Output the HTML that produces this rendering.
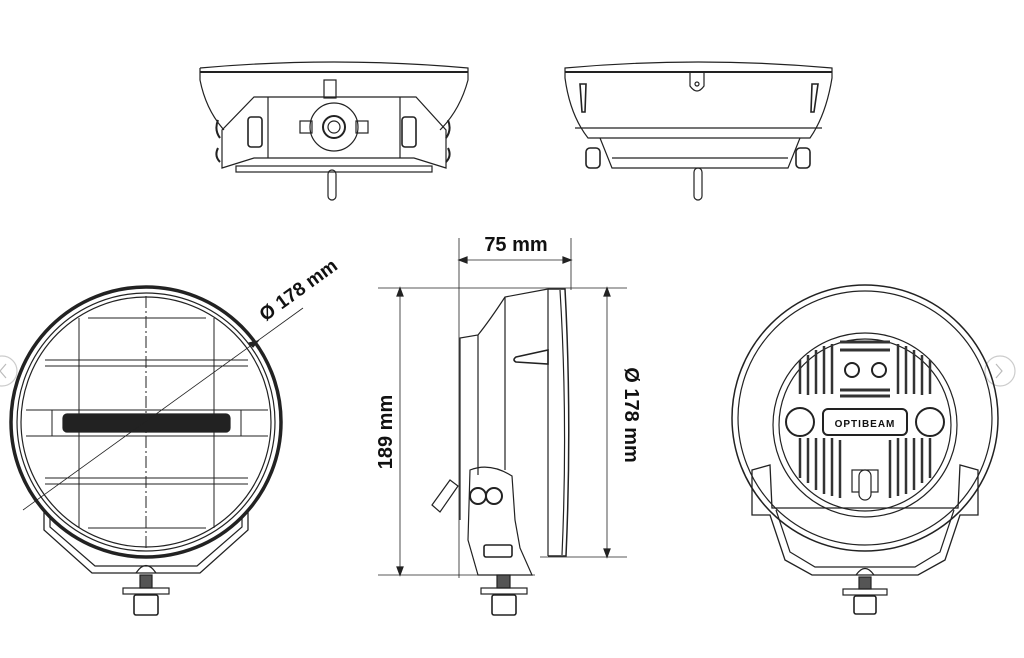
<!DOCTYPE html>
<html><head><meta charset="utf-8"><style>
html,body{margin:0;padding:0;background:#fff;}
svg{display:block}
text{font-family:"Liberation Sans",sans-serif;font-weight:bold;fill:#111}
</style></head><body>
<svg width="1024" height="658" viewBox="0 0 1024 658" xmlns="http://www.w3.org/2000/svg" fill="none" stroke="#222" stroke-width="1.2">
<!-- carousel arrows -->
<circle cx="2" cy="371" r="15" stroke="#ccc"/>
<path d="M6 364 l-6 7 6 7" stroke="#bbb"/>
<circle cx="1000" cy="371" r="15" stroke="#ccc"/>
<path d="M996 364 l6 7 -6 7" stroke="#bbb"/>

<!-- TOP LEFT VIEW -->
<path d="M200 68 Q334 56 468 68 L468 80 Q460 110 440 130 M200 68 L200 80 Q206 110 224 130" />
<line x1="200" y1="72" x2="468" y2="72" stroke-width="2"/>
<rect x="324" y="80" width="12" height="18"/>
<path d="M222 130 L254 97 L416 97 L446 130 L446 168 L414 158 L254 158 L222 168 Z"/>
<line x1="268" y1="97" x2="268" y2="158"/><line x1="400" y1="97" x2="400" y2="158"/>
<ellipse cx="334" cy="127" rx="24" ry="24"/>
<circle cx="334" cy="127" r="11" stroke-width="2"/><circle cx="334" cy="127" r="6"/>
<rect x="300" y="121" width="12" height="12"/><rect x="356" y="121" width="12" height="12"/>
<rect x="248" y="117" width="14" height="30" rx="3" stroke-width="1.6"/>
<rect x="402" y="117" width="14" height="30" rx="3" stroke-width="1.6"/>
<path d="M218 120 q-4 10 2 18 M448 120 q4 10 -2 18 M218 148 q-4 8 2 14 M448 148 q4 8 -2 14" stroke-width="2"/>
<rect x="236" y="166" width="196" height="6"/>
<rect x="328" y="170" width="8" height="30" rx="4"/>

<!-- TOP RIGHT VIEW -->
<path d="M565 68 Q698 56 832 68 L832 78 Q826 115 810 138 L588 138 Q570 115 565 78 Z"/>
<line x1="565" y1="72" x2="832" y2="72" stroke-width="2"/>
<line x1="575" y1="128" x2="822" y2="128"/>
<path d="M690 72 L690 86 Q697 96 704 86 L704 72"/><circle cx="697" cy="84" r="2"/>
<path d="M580 84 l6 0 -1 28 -3 0 Z M812 84 l6 0 -4 28 -3 0 Z" stroke-width="1.6"/>
<path d="M600 138 L612 168 L788 168 L800 138"/>
<line x1="612" y1="158" x2="788" y2="158"/>
<rect x="586" y="148" width="14" height="20" rx="4" stroke-width="1.6"/>
<rect x="796" y="148" width="14" height="20" rx="4" stroke-width="1.6"/>
<rect x="694" y="168" width="8" height="32" rx="4"/>

<!-- FRONT VIEW LEFT -->
<circle cx="146" cy="422" r="135" stroke-width="3.5"/>
<circle cx="146" cy="422" r="129"/>
<circle cx="146" cy="422" r="125"/>
<g stroke-width="1">
<line x1="79" y1="318" x2="79" y2="528"/><line x1="146" y1="296" x2="146" y2="548" stroke-dasharray="12 3 2 3"/><line x1="214" y1="318" x2="214" y2="528"/>
<path d="M45 360 L248 360 M45 366 L248 366 M45 478 L248 478 M45 484 L248 484 M88 318 L206 318 M88 528 L206 528 M26 410 L268 410 M26 436 L268 436"/>
<line x1="52" y1="410" x2="52" y2="436"/><line x1="241" y1="410" x2="241" y2="436"/>
</g>
<rect x="63" y="414" width="167" height="18" rx="4" fill="#222"/>
<line x1="23" y1="510" x2="303" y2="308" stroke-width="0.8"/>
<path d="M258 341 l-9 2 4 4 Z" fill="#222"/>
<text x="0" y="0" font-size="19" transform="translate(302,295) rotate(-36)" text-anchor="middle" stroke="none">Ø 178 mm</text>
<path d="M44 512 L44 530 L92 573 L200 573 L248 530 L248 512" stroke-width="1.3"/>
<path d="M50 518 L50 527 L95 566 L197 566 L242 527 L242 518"/>
<path d="M136 573 Q146 558 156 573"/>
<rect x="140" y="575" width="12" height="13" fill="#555"/>
<rect x="123" y="588" width="46" height="6"/>
<rect x="134" y="595" width="24" height="20" rx="2" stroke-width="1.6"/>

<!-- SIDE VIEW -->
<text x="516" y="251" font-size="20" text-anchor="middle" stroke="none">75 mm</text>
<g stroke-width="0.8">
<line x1="459" y1="238" x2="459" y2="578"/><line x1="571" y1="238" x2="571" y2="290"/>
<line x1="459" y1="260" x2="571" y2="260"/>
<line x1="378" y1="288" x2="627" y2="288"/><line x1="378" y1="575" x2="535" y2="575"/>
<line x1="540" y1="557" x2="627" y2="557"/>
<line x1="400" y1="288" x2="400" y2="575"/><line x1="607" y1="288" x2="607" y2="557"/>
</g>
<path d="M459 260 l8 -3 0 6Z M571 260 l-8 -3 0 6Z M400 288 l-3 8 6 0Z M400 575 l-3 -8 6 0Z M607 288 l-3 8 6 0Z M607 557 l-3 -8 6 0Z" fill="#222"/>
<text font-size="20" transform="translate(392,432) rotate(-90)" text-anchor="middle" stroke="none">189 mm</text>
<text font-size="20" transform="translate(625,415) rotate(90)" text-anchor="middle" stroke="none">Ø 178 mm</text>
<path d="M548 289 L565 289 Q572 420 566 556 L548 556" stroke-width="1.5"/>
<path d="M560 290 Q568 420 562 555"/>
<path d="M548 289 L505 297 Q490 320 478 335 L460 338 L460 520"/>
<line x1="478" y1="335" x2="478" y2="475"/><line x1="505" y1="297" x2="505" y2="470"/>
<line x1="548" y1="289" x2="548" y2="556"/>
<path d="M516 357 L548 350 L548 364 L516 362 Q512 360 516 357Z" stroke-width="1.6"/>
<path d="M470 470 Q490 462 512 476 L515 520 L520 548 L532 575 L478 575 L468 540 Z"/>
<circle cx="478" cy="496" r="8" stroke-width="2"/><circle cx="494" cy="496" r="8" stroke-width="2"/>
<path d="M432 505 L450 480 L458 486 L440 512 Z"/>
<rect x="484" y="545" width="28" height="12" rx="2" stroke-width="1.6"/>
<rect x="497" y="575" width="13" height="13" fill="#555"/>
<rect x="481" y="588" width="46" height="6"/>
<rect x="492" y="595" width="24" height="20" rx="2" stroke-width="1.6"/>

<!-- BACK VIEW RIGHT -->
<circle cx="865" cy="418" r="133" stroke-width="1.5"/>
<circle cx="865" cy="418" r="127"/>
<circle cx="865" cy="425" r="92"/>
<circle cx="865" cy="425" r="86"/>
<g stroke-width="2.5" stroke="#333">
<path d="M800 360 v34 M808 355 v40 M816 350 v44 M824 346 v48 M832 344 v50 M898 344 v50 M906 346 v48 M914 350 v44 M922 355 v40 M930 360 v34"/>
<path d="M800 438 v40 M808 438 v45 M816 438 v52 M824 438 v56 M832 438 v58 M840 440 v58 M890 440 v58 M898 438 v58 M906 438 v56 M914 438 v52 M922 438 v45 M930 438 v40"/>
<path d="M840 342 h50 M840 350 h50 M840 390 h50 M840 396 h50" stroke-width="3"/>
</g>
<circle cx="852" cy="370" r="7" stroke-width="2"/><circle cx="879" cy="370" r="7" stroke-width="2"/>
<circle cx="800" cy="422" r="14" stroke-width="2" fill="#fff"/><circle cx="930" cy="422" r="14" stroke-width="2" fill="#fff"/>
<rect x="823" y="409" width="84" height="26" rx="5" stroke-width="2" fill="#fff"/>
<text x="865" y="427" font-size="10" text-anchor="middle" stroke="none" letter-spacing="1">OPTIBEAM</text>
<rect x="852" y="470" width="26" height="22" fill="#fff"/>
<rect x="859" y="470" width="12" height="30" rx="6" fill="#fff"/>
<path d="M752 470 L770 465 L772 508 L958 508 L960 465 L978 470 L978 515 L960 515 L945 560 L918 575 L812 575 L785 560 L770 515 L752 515 Z" stroke-width="1.3" fill="none"/>
<path d="M776 510 L790 552 L815 567 L915 567 L940 552 L954 510"/>
<path d="M856 575 Q865 562 874 575"/>
<rect x="859" y="577" width="12" height="12" fill="#555"/>
<rect x="843" y="589" width="44" height="6"/>
<rect x="854" y="596" width="22" height="18" rx="2" stroke-width="1.6"/>
</svg>
</body></html>
